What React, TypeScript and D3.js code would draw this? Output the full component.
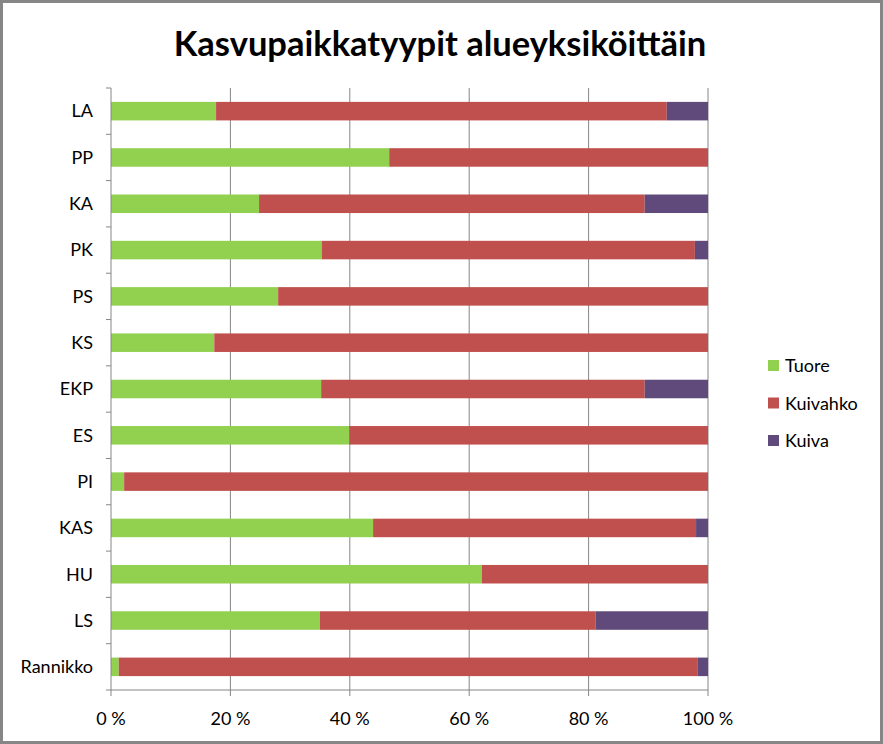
import React from "react";
import * as d3 from "d3";

const categories = ["LA", "PP", "KA", "PK", "PS", "KS", "EKP", "ES", "PI", "KAS", "HU", "LS", "Rannikko"];
const tuore = [17.6, 46.6, 24.8, 35.3, 28.0, 17.3, 35.2, 39.9, 2.2, 43.9, 62.1, 35.0, 1.3];
const kuivahko = [75.5, 53.4, 64.6, 62.5, 72.0, 82.7, 54.2, 60.1, 97.8, 54.1, 37.9, 46.2, 97.0];
const kuiva = [6.9, 0, 10.6, 2.2, 0, 0, 10.6, 0, 0, 2.0, 0, 18.8, 1.7];
const seriesNames = ["Tuore", "Kuivahko", "Kuiva"];
const seriesColors = ["#92D050", "#C0504D", "#604A7B"];
const xTicks = [0, 20, 40, 60, 80, 100];

const W = 883, H = 744;
const FONT = "Lato, 'Open Sans', sans-serif";

export default function App() {
  const left = 111, right = 708, top = 88, bottom = 690;
  const x = d3.scaleLinear().domain([0, 100]).range([left, right]);
  const y = d3.scaleBand().domain(categories).range([top, bottom]).paddingInner(0.6).paddingOuter(0.3);
  const bandStep = (bottom - top) / categories.length;
  const rows = categories.map((c, i) => ({ c, vals: [tuore[i], kuivahko[i], kuiva[i]] }));
  const stack = d3.stack<any>().keys(["0", "1", "2"]).value((d, k) => d.vals[+k]);
  const stacked = stack(rows as any);

  return (
    <svg width={W} height={H} style={{ position: "absolute", left: 0, top: 0 }}>
      <rect x={0} y={0} width={W} height={H} fill="#fff" />
      <rect x={1.5} y={1.5} width={W - 3} height={H - 3} fill="none" stroke="#868686" strokeWidth={3} />
      <text x={440} y={56} textAnchor="middle" fontFamily={FONT} fontWeight="bold" fontSize={34.5} fill="#000">
        Kasvupaikkatyypit alueyksiköittäin
      </text>
      {xTicks.slice(1).map((t) => (
        <line key={t} x1={x(t)} x2={x(t)} y1={top} y2={bottom} stroke="#868686" strokeWidth={1} />
      ))}
      {stacked.map((s, si) =>
        s.map((d: any, i: number) => (
          <rect key={si + "-" + i} x={x(d[0])} y={y(categories[i])!} width={Math.max(0, x(d[1]) - x(d[0]))}
            height={y.bandwidth()} fill={seriesColors[si]} />
        ))
      )}
      <line x1={left} x2={left} y1={top} y2={bottom} stroke="#868686" />
      <line x1={left} x2={right} y1={bottom} y2={bottom} stroke="#868686" />
      {d3.range(categories.length + 1).map((i) => (
        <line key={"yt" + i} x1={left - 5} x2={left} y1={top + i * bandStep} y2={top + i * bandStep} stroke="#868686" />
      ))}
      {xTicks.map((t) => (
        <line key={"xt" + t} x1={x(t)} x2={x(t)} y1={bottom} y2={bottom + 6} stroke="#868686" />
      ))}
      {categories.map((c) => (
        <text key={c} x={93} y={y(c)! + y.bandwidth() / 2} dy="0.35em" textAnchor="end" fontFamily={FONT} fontSize={18} fill="#000">
          {c}
        </text>
      ))}
      {xTicks.map((t) => (
        <text key={"xl" + t} x={x(t)} y={725} textAnchor="middle" fontFamily={FONT} fontSize={18} fill="#000">
          {t + " %"}
        </text>
      ))}
      {seriesNames.map((n, i) => (
        <g key={n} transform={`translate(768, ${366 + i * 37.5})`}>
          <rect x={0} y={-6} width={11} height={11} fill={seriesColors[i]} />
          <text x={17} y={0} dy="0.35em" fontFamily={FONT} fontSize={18} fill="#000">{n}</text>
        </g>
      ))}
    </svg>
  );
}
